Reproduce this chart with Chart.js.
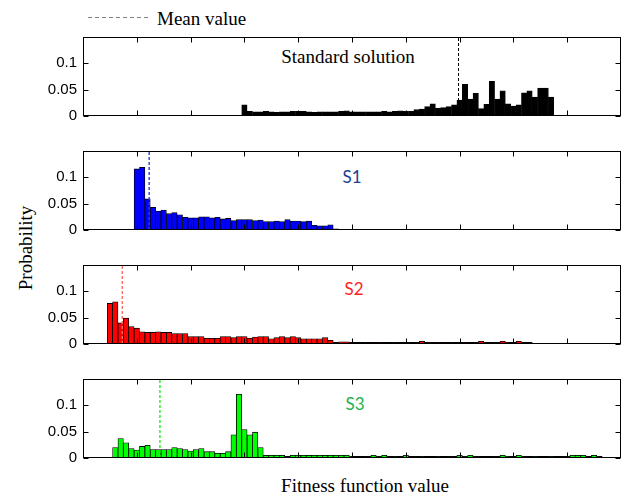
<!DOCTYPE html>
<html>
<head>
<meta charset="utf-8">
<script src="https://cdn.jsdelivr.net/npm/chart.js@4"></script>
<style>
  html, body { margin: 0; padding: 0; background: #fff; }
  #wrap { position: relative; width: 624px; height: 495px; overflow: hidden; }
  #wrap canvas { position: absolute; left: 0; }
  .serif { position: absolute; white-space: nowrap; font-family: "Liberation Serif", "Times New Roman", serif; font-size: 19px; line-height: 19px; color: #000; }
  .tag { position: absolute; white-space: nowrap; font-family: Lato, "Open Sans", sans-serif; font-size: 17px; line-height: 17px; transform: translate(-50%, -50%); }
</style>
</head>
<body>
<div id="wrap">
  <svg style="position:absolute;left:88px;top:12px" width="62" height="10">
    <line x1="0" y1="5.5" x2="60" y2="5.5" stroke="#808080" stroke-width="1" stroke-dasharray="4 3"></line>
  </svg>
  <div class="serif" style="left:157px;top:9px">Mean value</div>
  <div class="serif" style="left:348px;top:47px;transform:translateX(-50%)">Standard solution</div>
  <div class="tag" style="left:352px;top:176px;color:#203d8e">S1</div>
  <div class="tag" style="left:354px;top:288px;color:#ff1f1f">S2</div>
  <div class="tag" style="left:355px;top:403px;color:#19b34f">S3</div>
  <div class="serif" style="left:25px;top:248px;transform:translate(-50%,-50%) rotate(-90deg)">Probability</div>
  <div class="serif" style="left:365px;top:476px;transform:translateX(-50%)">Fitness function value</div>
  <canvas id="p0" width="624" height="109"></canvas>
  <canvas id="p1" width="624" height="109"></canvas>
  <canvas id="p2" width="624" height="109"></canvas>
  <canvas id="p3" width="624" height="109"></canvas>
</div>
<script>
// histogram bins are 0.1 wide, first value is the centre of the first bin
const binWidth = 0.1;
const xTicks = [1, 2, 3, 4, 5, 6, 7, 8, 9];
const yTicks = [0, 0.05, 0.1];

// Standard solution
const stdStart = 3.0;
const stdMean = 6.98;
const stdValues = [
    0.021, 0.009, 0.008, 0.008, 0.009, 0.008, 0.007, 0.008, 0.008, 0.009,
    0.009, 0.009, 0.008, 0.007, 0.008, 0.008, 0.008, 0.008, 0.009, 0.010,
    0.008, 0.008, 0.008, 0.008, 0.008, 0.008, 0.009, 0.008, 0.009, 0.010,
    0.009, 0.009, 0.012, 0.013, 0.018, 0.023, 0.015, 0.016, 0.018, 0.021,
    0.030, 0.060, 0.032, 0.043, 0.014, 0.022, 0.066, 0.032, 0.048, 0.023,
    0.019, 0.021, 0.044, 0.048, 0.036, 0.053, 0.053, 0.036
];

// S1
const s1Start = 1.0;
const s1Mean = 1.23;
const s1Values = [
    0.116, 0.119, 0.059, 0.043, 0.036, 0.038, 0.031, 0.033, 0.029, 0.024,
    0.023, 0.023, 0.025, 0.025, 0.023, 0.024, 0.021, 0.022, 0.018, 0.020,
    0.020, 0.020, 0.018, 0.019, 0.016, 0.016, 0.017, 0.016, 0.020, 0.017,
    0.017, 0.016, 0.017, 0.009, 0.008, 0.008, 0.010, 0.002
];

// S2
const s2Start = 0.5;
const s2Mean = 0.73;
const s2Values = [
    0.077, 0.080, 0.040, 0.049, 0.033, 0.030, 0.023, 0.022, 0.022, 0.023,
    0.022, 0.022, 0.020, 0.020, 0.020, 0.014, 0.014, 0.014, 0.011, 0.011,
    0.011, 0.014, 0.014, 0.012, 0.014, 0.014, 0.011, 0.013, 0.014, 0.014,
    0.010, 0.012, 0.014, 0.012, 0.014, 0.012, 0.010, 0.010, 0.010, 0.010,
    0.012, 0.007, 0.003, 0.004, 0.004, 0.003, 0.003, 0.003, 0.003, 0.003,
    0.003, 0.003, 0.003, 0.003, 0.003, 0.003, 0.003, 0.003, 0.005, 0.003,
    0.003, 0.003, 0.003, 0.003, 0.003, 0.003, 0.003, 0.003, 0.003, 0.005,
    0.003, 0.003, 0.003, 0.005, 0.003, 0.003, 0.005, 0.003, 0.003, 0.001
];

// S3
const s3Start = 0.6;
const s3Mean = 1.43;
const s3Values = [
    0.020, 0.037, 0.029, 0.018, 0.015, 0.022, 0.024, 0.016, 0.016, 0.016,
    0.016, 0.020, 0.018, 0.016, 0.013, 0.016, 0.018, 0.012, 0.012, 0.009,
    0.009, 0.012, 0.044, 0.121, 0.054, 0.044, 0.049, 0.020,
    0.005, 0.005, 0.005, 0.005, 0.003, 0.005, 0.005, 0.005, 0.005, 0.005,
    0.005, 0.005, 0.005, 0.005, 0.005, 0.005, 0.003, 0.003, 0.003, 0.003,
    0.005, 0.003, 0.005, 0.003, 0.003, 0.003, 0.005, 0.003, 0.003, 0.003,
    0.003, 0.003, 0.003, 0.003, 0.003, 0.003, 0.005, 0.003, 0.005, 0.003,
    0.003, 0.003, 0.003, 0.003, 0.005, 0.003, 0.003, 0.005, 0.003, 0.003,
    0.003, 0.003, 0.003, 0.003, 0.003, 0.003, 0.003, 0.005, 0.005, 0.005,
    0.003, 0.005, 0.003, 0.001
];

const panels = [
    { id: 'p0', top: 36,  start: stdStart, values: stdValues, mean: stdMean, fill: '#000000', meanColor: '#000000', meanWidth: 1 },
    { id: 'p1', top: 150, start: s1Start,  values: s1Values,  mean: s1Mean,  fill: '#0000ff', meanColor: '#2a40e0', meanWidth: 1.4 },
    { id: 'p2', top: 264, start: s2Start,  values: s2Values,  mean: s2Mean,  fill: '#ff0000', meanColor: '#ff6e64', meanWidth: 1.4 },
    { id: 'p3', top: 378, start: s3Start,  values: s3Values,  mean: s3Mean,  fill: '#00ff00', meanColor: '#22ee22', meanWidth: 1.4 }
];

const PAD = 14;   // space above / below the plot box inside each canvas
const TICK = 5;   // inward tick length

// box frame + inward ticks on all four sides (matlab style)
const frameTicks = {
    id: 'frameTicks',
    afterDatasetsDraw(chart) {
        const { ctx, chartArea: a, scales: { x, y } } = chart;
        const l = Math.round(a.left) + 0.5, r = Math.round(a.right) - 0.5;
        const t = Math.round(a.top) + 0.5, b = Math.round(a.bottom) - 0.5;
        ctx.save();
        ctx.strokeStyle = '#000';
        ctx.lineWidth = 1;
        ctx.beginPath();
        xTicks.forEach(v => {
            const px = Math.round(x.getPixelForValue(v)) + 0.5;
            ctx.moveTo(px, t); ctx.lineTo(px, t + TICK);
            ctx.moveTo(px, b); ctx.lineTo(px, b - TICK);
        });
        yTicks.forEach(v => {
            const py = Math.round(y.getPixelForValue(v)) + 0.5;
            ctx.moveTo(l, py); ctx.lineTo(l + TICK, py);
            ctx.moveTo(r, py); ctx.lineTo(r - TICK, py);
        });
        ctx.stroke();
        ctx.strokeRect(l, t, r - l, b - t);
        ctx.restore();
    }
};

function buildPanel(p) {
    const canvas = document.getElementById(p.id);
    canvas.style.top = (p.top - PAD) + 'px';

    const bars = p.values.map((v, i) => ({ x: Math.round((p.start + i * binWidth) * 100) / 100, y: v }));

    return new Chart(canvas, {
        type: 'bar',
        data: {
            datasets: [
                {
                    type: 'line',
                    data: [{ x: p.mean, y: 0 }, { x: p.mean, y: 0.15 }],
                    borderColor: p.meanColor,
                    borderWidth: p.meanWidth,
                    borderDash: [3, 2],
                    pointRadius: 0,
                    order: 0
                },
                {
                    type: 'bar',
                    data: bars,
                    backgroundColor: p.fill,
                    borderColor: '#000',
                    borderWidth: 0.8,
                    barPercentage: 1,
                    categoryPercentage: 1,
                    order: 1
                }
            ]
        },
        options: {
            responsive: false,
            devicePixelRatio: 1,
            animation: false,
            layout: { padding: { top: PAD, bottom: PAD, left: 0, right: 3 } },
            plugins: {
                legend: { display: false },
                tooltip: { enabled: false },
                title: { display: false }
            },
            scales: {
                x: {
                    type: 'linear',
                    display: false,
                    offset: false,
                    min: 0,
                    max: 10
                },
                y: {
                    min: 0,
                    max: 0.15,
                    grid: { display: false, drawTicks: false },
                    border: { display: false },
                    ticks: {
                        stepSize: 0.05,
                        padding: 6,
                        color: '#000',
                        font: { family: '"Liberation Sans", Arial, sans-serif', size: 15 },
                        callback: v => (v > 0.12 ? '' : String(+v.toFixed(2)))
                    },
                    afterFit: s => { s.width = 83; }
                }
            }
        },
        plugins: [frameTicks]
    });
}

panels.forEach(buildPanel);
</script>
</body>
</html>
